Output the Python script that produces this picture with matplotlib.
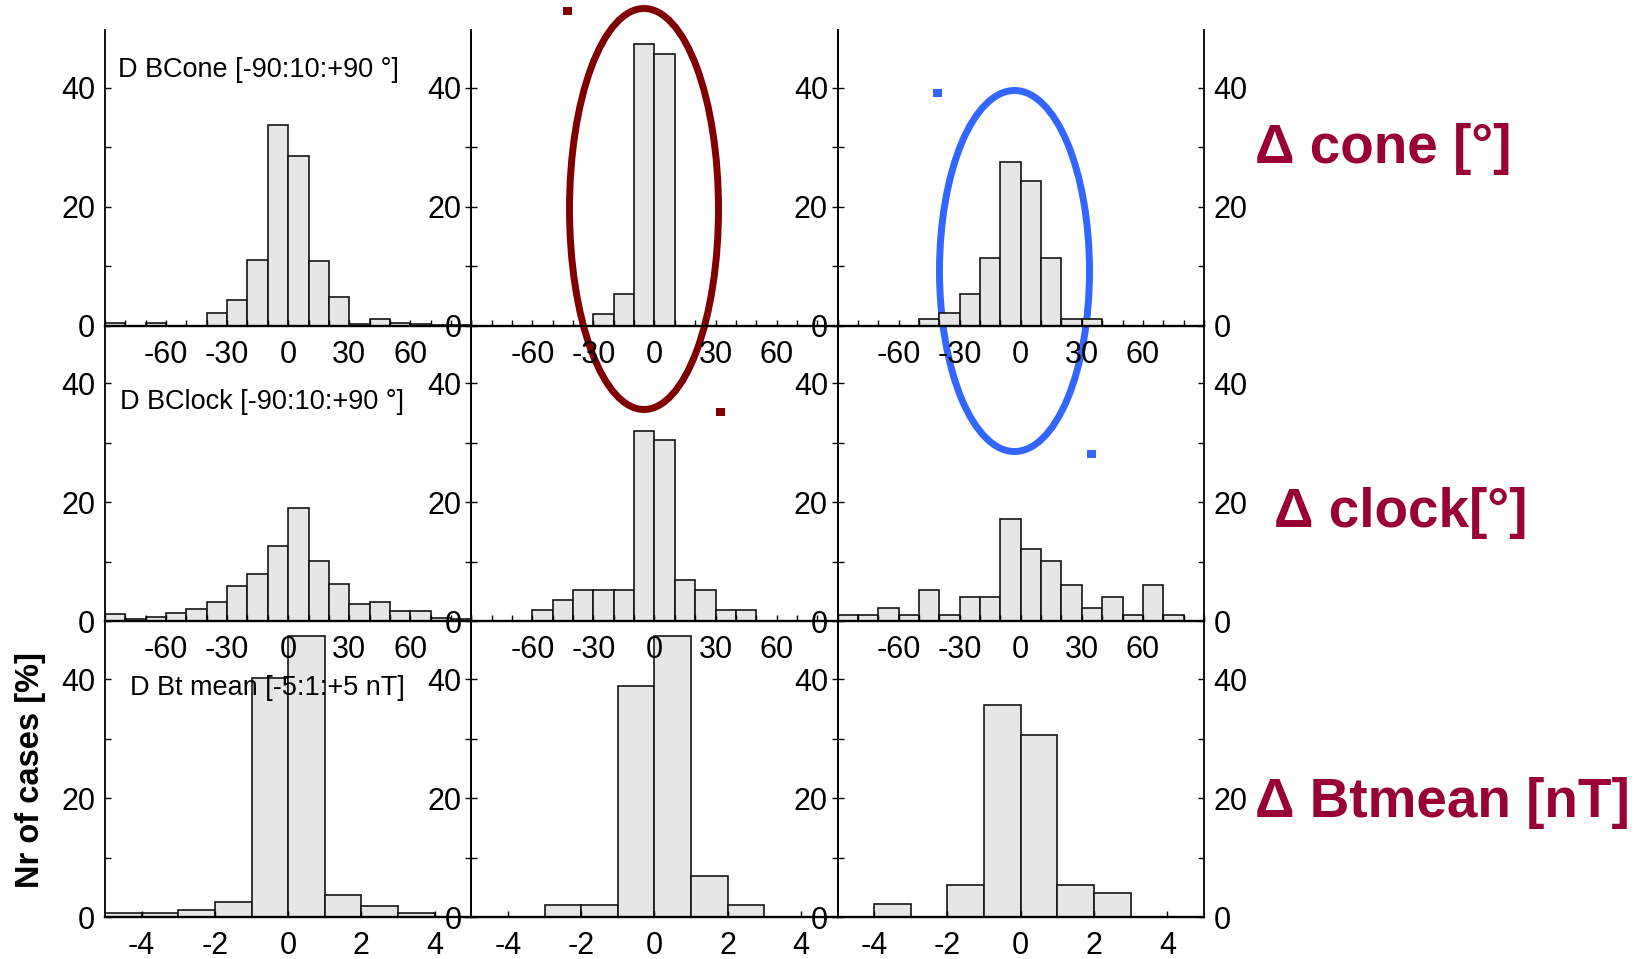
import numpy as np
import matplotlib.pyplot as plt
from matplotlib.patches import Ellipse, Rectangle
from matplotlib.ticker import MultipleLocator, FixedLocator

plt.rcParams['font.family'] = ['Liberation Sans', 'DejaVu Sans']
plt.rcParams['axes.unicode_minus'] = False

# bin edges: 10 deg bins for the angles, 1 nT bins for Bt
angle_edges = np.arange(-90, 91, 10)
bt_edges = np.arange(-5, 6, 1)

# percentage of cases per bin, one list per panel (rows: cone, clock, Bt)
cone_1 = [0.4, 0.0, 0.4, 0.0, 0.0, 2.1, 4.3, 11.0, 33.8, 28.6, 10.8, 4.9, 0.2, 1.2, 0.4, 0.2, 0.1, 0.1]
cone_2 = [0, 0, 0, 0, 0, 0, 1.9, 5.3, 47.3, 45.7, 0, 0, 0, 0, 0, 0, 0, 0]
cone_3 = [0, 0, 0, 0, 1.1, 2.1, 5.3, 11.4, 27.5, 24.4, 11.4, 1.1, 1.1, 0, 0, 0, 0, 0]

clock_1 = [1.2, 0.4, 0.7, 1.4, 2.1, 3.2, 6.0, 8.0, 12.6, 19.0, 10.2, 6.3, 2.9, 3.2, 1.8, 1.8, 0.6, 0.4]
clock_2 = [0, 0, 0, 1.9, 3.6, 5.3, 5.3, 5.3, 32.0, 30.4, 6.9, 5.3, 1.9, 1.9, 0, 0, 0, 0]
clock_3 = [1.1, 1.1, 2.2, 1.1, 5.3, 1.1, 4.1, 4.1, 17.2, 12.2, 10.2, 6.1, 2.2, 4.1, 1.1, 6.1, 1.1, 0]

bt_1 = [0.7, 0.7, 1.2, 2.6, 40.1, 47.2, 3.75, 1.85, 0.7, 0]
bt_2 = [0, 0, 1.96, 1.96, 38.9, 47.3, 6.9, 1.96, 0, 0]
bt_3 = [0, 2.2, 0, 5.3, 35.6, 30.6, 5.3, 4.1, 0, 0]

angle_ticks = [-60, -30, 0, 30, 60]
bt_ticks = [-4, -2, 0, 2, 4]

panel_titles = ['D BCone [-90:10:+90 °]', 'D BClock [-90:10:+90 °]', 'D Bt mean [-5:1:+5 nT]']
row_labels = ['Δ cone [°]', 'Δ clock[°]', 'Δ Btmean [nT]']

rows = [
    (angle_edges, [cone_1, cone_2, cone_3], angle_ticks),
    (angle_edges, [clock_1, clock_2, clock_3], angle_ticks),
    (bt_edges, [bt_1, bt_2, bt_3], bt_ticks),
]

W, H = 1642, 959
fig = plt.figure(figsize=(W / 100, H / 100), dpi=100)

x0, col_w = 105, 366.3
y_top, row_h = 30, 295.67

for r, (edges, panels, ticks) in enumerate(rows):
    for c, vals in enumerate(panels):
        left = (x0 + c * col_w) / W
        bottom = 1 - (y_top + (r + 1) * row_h) / H
        ax = fig.add_axes([left, bottom, col_w / W, row_h / H])
        # upper rows on top so their tick labels stay visible over lower bars
        ax.set_zorder(5 - r)
        ax.patch.set_visible(False)

        step = edges[1] - edges[0]
        ax.bar(edges[:-1], vals, width=step, align='edge',
               color='#e6e6e6', edgecolor='#151515', linewidth=1.2)

        ax.set_xlim(edges[0], edges[-1])
        ax.set_ylim(0, 49.7)

        ax.xaxis.set_major_locator(FixedLocator(ticks))
        if step == 10:
            ax.xaxis.set_minor_locator(MultipleLocator(10))
        ax.yaxis.set_major_locator(FixedLocator([0, 20, 40]))
        ax.yaxis.set_minor_locator(FixedLocator([10, 30]))

        ax.spines['top'].set_visible(False)
        ax.spines['bottom'].set_linewidth(1.7)
        ax.spines['left'].set_linewidth(1.3)
        ax.spines['right'].set_linewidth(1.3)

        ax.tick_params(which='both', direction='in', top=False, bottom=True,
                       left=True, right=True, length=4.5, width=1.0)
        ax.tick_params(axis='x', labelsize=22, pad=10)
        ax.tick_params(axis='y', labelsize=22, pad=7)
        if c == 2:
            ax.tick_params(axis='y', labelright=True)

        if c == 0:
            pos = [(0.036, 0.865), (0.041, 0.742), (0.068, 0.774)][r]
            ax.text(pos[0], pos[1], panel_titles[r], transform=ax.transAxes,
                    fontsize=19.5, ha='left', va='center', zorder=5)

# y axis title
fig.text(30 / W, 1 - 770 / H, 'Nr of cases [%]', rotation=90, fontsize=23.5,
         fontweight='bold', ha='center', va='center')

# row labels on the right
label_pos = [(1255, 163), (1274, 527), (1255, 817)]
for (px, py), txt in zip(label_pos, row_labels):
    fig.text(px / W, 1 - py / H, txt, fontsize=39.5, fontweight='bold',
             color='#990033', ha='left', va='baseline')


# highlight ellipses with their corner handles
def ring(cx, cy, w, h, color):
    fig.add_artist(Ellipse((cx / W, 1 - cy / H), w / W, h / H,
                           transform=fig.transFigure, fill=False,
                           edgecolor=color, linewidth=5))
    for hx, hy in [(cx - w / 2 - 2, cy - h / 2 + 2), (cx + w / 2 + 2, cy + h / 2 + 2)]:
        fig.add_artist(Rectangle(((hx - 4.5) / W, 1 - (hy + 4) / H), 9 / W, 8 / H,
                                 transform=fig.transFigure, color=color, lw=0))


ring(644, 209, 149, 401, '#800000')
ring(1014.5, 271, 150, 361, '#3366ff')

fig.savefig('out.png', dpi=100)
